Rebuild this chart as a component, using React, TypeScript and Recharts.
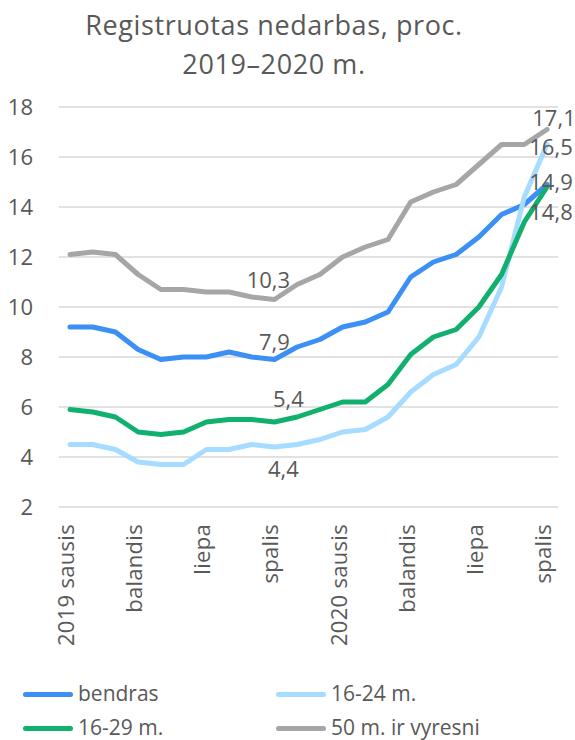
import { LineChart, Line, XAxis, YAxis, CartesianGrid, LabelList } from 'recharts'

const months = [
  '2019 sausis', 'vasaris', 'kovas', 'balandis', 'gegužė', 'birželis', 'liepa', 'rugpjūtis', 'rugsėjis', 'spalis', 'lapkritis', 'gruodis',
  '2020 sausis', 'vasaris', 'kovas', 'balandis', 'gegužė', 'birželis', 'liepa', 'rugpjūtis', 'rugsėjis', 'spalis',
]
const bendras = [9.2, 9.2, 9.0, 8.3, 7.9, 8.0, 8.0, 8.2, 8.0, 7.9, 8.4, 8.7, 9.2, 9.4, 9.8, 11.2, 11.8, 12.1, 12.8, 13.7, 14.1, 14.9]
const m1624 = [4.5, 4.5, 4.3, 3.8, 3.7, 3.7, 4.3, 4.3, 4.5, 4.4, 4.5, 4.7, 5.0, 5.1, 5.6, 6.6, 7.3, 7.7, 8.8, 10.8, 14.4, 16.5]
const m1629 = [5.9, 5.8, 5.6, 5.0, 4.9, 5.0, 5.4, 5.5, 5.5, 5.4, 5.6, 5.9, 6.2, 6.2, 6.9, 8.1, 8.8, 9.1, 10.0, 11.3, 13.4, 14.8]
const m50 = [12.1, 12.2, 12.1, 11.3, 10.7, 10.7, 10.6, 10.6, 10.4, 10.3, 10.9, 11.3, 12.0, 12.4, 12.7, 14.2, 14.6, 14.9, 15.7, 16.5, 16.5, 17.1]
const yTicks = [2, 4, 6, 8, 10, 12, 14, 16, 18]

const data = months.map((m, i) => ({
  month: m,
  bendras: bendras[i],
  m1624: m1624[i],
  m1629: m1629[i],
  m50: m50[i],
}))

const FONT = '"Open Sans", sans-serif'
const TEXT = '#595959'

const series = [
  { key: 'bendras', name: 'bendras', color: '#3b8ff5' },
  { key: 'm1624', name: '16-24 m.', color: '#a6dcff' },
  { key: 'm1629', name: '16-29 m.', color: '#12b06f' },
  { key: 'm50', name: '50 m. ir vyresni', color: '#a6a6a8' },
]

// label offsets for the two labelled points (Oct 2019 and Oct 2020)
const labelOffsets: Record<string, { mid: [number, number]; end: [number, number] }> = {
  bendras: { mid: [0, -10], end: [4, 5] },
  m1624: { mid: [9, 30], end: [4, 10] },
  m1629: { mid: [14, -15], end: [4, 33] },
  m50: { mid: [-6, -12], end: [7, -4] },
}

function makeLabel(key: string) {
  return (props: any) => {
    const { x, y, value, index } = props
    let off: [number, number] | null = null
    if (index === 9) off = labelOffsets[key].mid
    if (index === months.length - 1) off = labelOffsets[key].end
    if (!off) return null
    return (
      <text x={x + off[0]} y={y + off[1]} textAnchor="middle" fontSize={22} fontFamily={FONT} fill={TEXT}>
        {String(value).replace('.', ',')}
      </text>
    )
  }
}

function XTick(props: any) {
  const { x, y, payload } = props
  const ty = y + 15
  return (
    <text
      x={x}
      y={ty}
      dy={4}
      transform={`rotate(-90, ${x}, ${ty})`}
      textAnchor="end"
      fontSize={22}
      letterSpacing={0.3}
      fontFamily={FONT}
      fill={TEXT}
    >
      {payload.value}
    </text>
  )
}

export default function App() {
  return (
    <div style={{ position: 'absolute', left: 0, top: 0, width: 575, height: 740, background: '#fff' }}>
      <div
        style={{
          position: 'absolute',
          left: 0,
          top: 5,
          width: 548,
          textAlign: 'center',
          fontFamily: FONT,
          fontSize: 27,
          letterSpacing: 0.6,
          lineHeight: '39px',
          color: TEXT,
        }}
      >
        Registruotas nedarbas, proc.
        <br />
        2019–2020 m.
      </div>
      <LineChart width={575} height={740} data={data} margin={{ top: 107, right: 17, bottom: 0, left: 0 }}>
        <CartesianGrid vertical={false} stroke="#d9d9d9" strokeWidth={1.5} />
        <XAxis
          dataKey="month"
          height={233}
          interval={2}
          axisLine={false}
          tickLine={false}
          tickSize={0}
          padding={{ left: 11, right: 11 }}
          tick={<XTick />}
        />
        <YAxis
          width={59}
          domain={[2, 18]}
          ticks={yTicks}
          axisLine={false}
          tickLine={false}
          tickSize={0}
          tickMargin={26}
          tick={{ fontSize: 22, fill: TEXT, fontFamily: FONT }}
        />
        {series.map((s) => (
          <Line
            key={s.key}
            type="linear"
            dataKey={s.key}
            stroke={s.color}
            strokeWidth={5}
            strokeLinecap="round"
            strokeLinejoin="round"
            dot={false}
            activeDot={false}
            isAnimationActive={false}
          >
            <LabelList dataKey={s.key} content={makeLabel(s.key)} />
          </Line>
        ))}
      </LineChart>
      {series.map((s, i) => {
        const col = i % 2
        const row = Math.floor(i / 2)
        const left = col === 0 ? 23 : 276
        const cy = row === 0 ? 694 : 728
        return (
          <div key={s.key}>
            <div
              style={{
                position: 'absolute',
                left,
                top: cy - 2.5,
                width: 50,
                height: 5,
                borderRadius: 3,
                background: s.color,
              }}
            />
            <div
              style={{
                position: 'absolute',
                left: left + 55,
                top: cy - 13,
                fontFamily: FONT,
                fontSize: 21,
                lineHeight: '24px',
                color: TEXT,
                whiteSpace: 'nowrap',
              }}
            >
              {s.name}
            </div>
          </div>
        )
      })}
    </div>
  )
}
